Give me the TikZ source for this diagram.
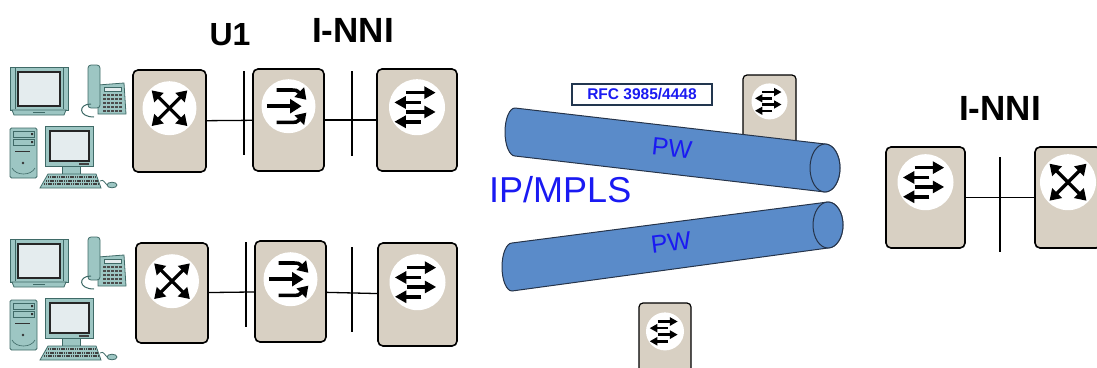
\documentclass[tikz,border=0pt]{standalone}
\usepackage{fontspec}
\setmainfont{Liberation Sans}
\definecolor{boxbeige}{HTML}{D8D0C3}
\definecolor{tubeblue}{HTML}{5A8BC9}
\definecolor{tubeedge}{HTML}{26344A}
\definecolor{hwteal}{HTML}{9DC6C3}
\definecolor{hwedge}{HTML}{3F6A67}
\definecolor{screenlight}{HTML}{E4ECEE}
\definecolor{labelblue}{HTML}{1A1AF2}
\definecolor{rfcedge}{HTML}{22364F}
\tikzset{
  devbox/.style={draw=black, line width=1.6pt, rounded corners=5pt, fill=boxbeige, inner sep=0pt},
  minibox/.style={devbox, line width=1.2pt, rounded corners=4pt},
  disc/.style={circle, fill=white, inner sep=0pt, minimum size=#1},
  link/.style={draw=black, line width=1.3pt},
  bar/.style={draw=black, line width=1.6pt},
  hw/.style={fill=hwteal, draw=hwedge, line width=0.8pt},
  tube/.style={fill=tubeblue, draw=tubeedge, line width=1pt, line join=round},
  title/.style={font=\bfseries\fontsize{#1}{#1}\selectfont, inner sep=0pt, anchor=base},
  pwlabel/.style={text=labelblue, font=\fontsize{25}{25}\selectfont, inner sep=0pt},
  % crossed four-way arrows (switch)
  pics/xicon/.style={code={
    \begin{scope}[scale=#1]
      \foreach \a in {45,135,225,315}{
        \begin{scope}[rotate=\a]
          \draw[line width={0.12*#1 pt}] (0,0) -- (0.6,0);
          \fill (0.93,0) -- (0.55,0.25) -- (0.55,-0.25) -- cycle;
        \end{scope}
      }
    \end{scope}}},
  % three arrows merging to the right
  pics/mergeicon/.style={code={
    \begin{scope}[scale=#1, line width={0.13*#1 pt}]
      \draw (-0.44,-0.6) -- (0.15,-0.6) .. controls (0.28,-0.6) .. (0.4,-0.5);
      \fill (0.66,-0.24) -- (0.58,-0.7) -- (0.22,-0.34) -- cycle;
      \draw (-0.8,0) -- (0.1,0);
      \fill (0.48,0) -- (0.06,0.27) -- (0.06,-0.27) -- cycle;
      \draw (-0.44,0.6) -- (0.15,0.6) .. controls (0.28,0.6) .. (0.4,0.5);
      \fill (0.66,0.24) -- (0.58,0.7) -- (0.22,0.34) -- cycle;
    \end{scope}}},
  % alternating left/right arrows
  pics/swapicon/.style={code={
    \begin{scope}[scale=#1, line width={0.13*#1 pt}]
      \foreach \yy in {-0.52,0.17}{
        \draw (-0.39,\yy) -- (0.3,\yy);
        \fill (0.66,\yy) -- (0.26,\yy+0.23) -- (0.26,\yy-0.23) -- cycle;
      }
      \foreach \yy in {-0.17,0.52}{
        \draw (0.14,\yy) -- (-0.44,\yy);
        \fill (-0.8,\yy) -- (-0.4,\yy+0.23) -- (-0.4,\yy-0.23) -- cycle;
      }
    \end{scope}}},
  % television, telephone, tower PC with monitor, keyboard and mouse
  pics/workstation/.style={code={
    \filldraw[hw] (10,67) rectangle (68,110);
    \draw[hwedge, line width=0.6pt] (15,68) -- (15,109) (63,68) -- (63,109);
    \filldraw[fill=screenlight, draw=black!85, line width=1.3pt] (18,72) rectangle (60,106);
    \filldraw[hw] (12,110) -- (66,110) -- (64,115) -- (14,115) -- cycle;
    \fill[hwedge] (33,111.6) rectangle (45,113.2);
    \filldraw[hw] (98,85) -- (124,83) -- (126,114) -- (98,114) -- cycle;
    \filldraw[fill=screenlight, draw=hwedge, line width=0.6pt] (104,87) rectangle (121,91);
    \foreach \yy in {95,99,103,107,111}
      \draw[black!70, line width=1.6pt, dash pattern=on 3pt off 1pt] (103,\yy) -- (123,\yy);
    \filldraw[hw, rounded corners=3pt] (88,65) rectangle (100,108);
    \draw[hwedge, line width=1pt] (91,104) .. controls (78,104) and (78,117) .. (94,117);
    \filldraw[hw, rounded corners=1.5pt] (10,128) rectangle (37,178);
    \filldraw[hw] (13,131) rectangle (34,137);
    \filldraw[hw] (13,139) rectangle (34,145);
    \fill[black!80] (31,133) rectangle (33,135) (31,141) rectangle (33,143);
    \draw[black!80, line width=1pt] (15,151) -- (30,151);
    \fill[black!80] (23,163) circle (1.3);
    \draw[hwedge, line width=0.6pt] (12,168) .. controls (16,176) and (31,176) .. (35,168);
    \filldraw[hw] (62,164) rectangle (80,175);
    \filldraw[hw] (45,126) rectangle (93,166);
    \filldraw[fill=screenlight, draw=black!85, line width=1.2pt] (50,131) rectangle (89,161);
    \fill[black!75] (79,162.5) rectangle (89,165);
    \filldraw[hw] (48,174) -- (96,174) -- (101,188) -- (40,188) -- cycle;
    \draw[black!75, line width=2pt, dash pattern=on 1.2pt off 0.6pt] (48,177) -- (96,177);
    \draw[black!75, line width=2pt, dash pattern=on 1.2pt off 0.6pt] (46,180.5) -- (98,180.5);
    \draw[black!75, line width=2pt, dash pattern=on 1.2pt off 0.6pt] (44,184) -- (99,184);
    \draw[hwedge, line width=0.8pt] (100,181) .. controls (104,178) and (105,185) .. (108,185);
    \filldraw[hw] (112,185) ellipse (5 and 2.8);
  }}
}
\begin{document}
\begin{tikzpicture}[x=1pt,y=-1pt]
\useasboundingbox (0,0) rectangle (1097,367);
\clip (0,0) rectangle (1097,367);

% end-user equipment
\pic at (0,0) {workstation};
\pic at (0,172) {workstation};

% upper chain of devices
\node[devbox, minimum width=73pt, minimum height=102pt] (a1) at (169.5,121) {};
\node[devbox, minimum width=71pt, minimum height=102pt] (a2) at (288.5,120) {};
\node[devbox, minimum width=80pt, minimum height=102pt] (a3) at (417,120) {};
\node[disc=54pt] (a1c) at ([yshift=-39pt]a1.north) {};
\node[disc=54pt] (a2c) at ([yshift=-38pt]a2.north) {};
\node[disc=56pt] (a3c) at ([yshift=-39pt]a3.north) {};
\pic at (a1c) {xicon=27};
\pic at (a2c) {mergeicon=27};
\pic at (a3c) {swapicon=28};

% lower chain of devices
\node[devbox, minimum width=72pt, minimum height=100pt] (b1) at (172,293) {};
\node[devbox, minimum width=71pt, minimum height=101pt] (b2) at (290.5,291.5) {};
\node[devbox, minimum width=79pt, minimum height=103pt] (b3) at (417.5,294.5) {};
\node[disc=54pt] (b1c) at ([yshift=-39pt]b1.north) {};
\node[disc=54pt] (b2c) at ([yshift=-39pt]b2.north) {};
\node[disc=56pt] (b3c) at ([yshift=-40pt]b3.north) {};
\pic at (b1c) {xicon=27};
\pic at (b2c) {mergeicon=27};
\pic at (b3c) {swapicon=28};

% links between devices
\draw[link] (a1) -- (a2);
\draw[link] (a2) -- (a3);
\draw[link] (b1) -- (b2);
\draw[link] (b2) -- (b3);

% interface bars
\coordinate (ua1) at (244,71);  \coordinate (ua2) at (244,155);
\coordinate (ia1) at (352,71);  \coordinate (ia2) at (352,156);
\coordinate (ub1) at (246,242); \coordinate (ub2) at (246,327);
\coordinate (ib1) at (352,247); \coordinate (ib2) at (352,332);
\draw[bar] (ua1) -- (ua2);
\draw[bar] (ia1) -- (ia2);
\draw[bar] (ub1) -- (ub2);
\draw[bar] (ib1) -- (ib2);

% labels
\node[title=32] (lu1) at (230,45) {U1};
\node[title=35] (lin1) at (353,42) {I-NNI};
\node[title=35] (lin2) at (1000,120) {I-NNI};

% small provider devices
\node[minibox, minimum width=53pt, minimum height=80pt] (t1) at (769.5,115) {};
\node[disc=36pt] (t1c) at ([yshift=-27pt]t1.north) {};
\pic at (t1c) {swapicon=18};
\node[minibox, minimum width=52pt, minimum height=80pt] (t2) at (665,343) {};
\node[disc=38pt] (t2c) at ([yshift=-29pt]t2.north) {};
\pic at (t2c) {swapicon=19};

% pseudowire tunnels
\draw[tube] (515,108) -- (825,144) arc (-90:90:15 and 24) -- (515,156) arc (90:270:10 and 24) -- cycle;
\draw[tube] (825,168) ellipse (15 and 24);
\draw[tube] (512,243) -- (828,202) arc (-90:90:15 and 23) -- (512,291) arc (90:270:10 and 24) -- cycle;
\draw[tube] (828,225) ellipse (15 and 23);
\node[pwlabel, rotate=-6] (pw1) at (672,148) {PW};
\node[pwlabel, rotate=7] (pw2) at (671,243) {PW};

\node[anchor=base west, inner sep=0pt, text=labelblue, font=\fontsize{36}{36}\selectfont] (ipmpls) at (489,202) {IP/MPLS};
\node[draw=rfcedge, line width=1.4pt, fill=white, minimum width=140pt, minimum height=21pt, inner sep=0pt,
      text=labelblue, font=\bfseries\fontsize{15.5}{16}\selectfont] (rfc) at (642,94.5) {RFC 3985/4448};

% remote side
\node[devbox, minimum width=79pt, minimum height=101pt] (r1) at (925.5,197.5) {};
\node[devbox, minimum width=66pt, minimum height=101pt] (r2) at (1068,197.5) {};
\node[disc=56pt] (r1c) at ([yshift=-36pt]r1.north) {};
\node[disc=56pt] (r2c) at ([yshift=-36pt]r2.north) {};
\pic at (r1c) {swapicon=28};
\pic at (r2c) {xicon=28};
\draw[link] (r1) -- (r2);
\coordinate (ir1) at (1000,157); \coordinate (ir2) at (1000,252);
\draw[bar] (ir1) -- (ir2);
\end{tikzpicture}
\end{document}
